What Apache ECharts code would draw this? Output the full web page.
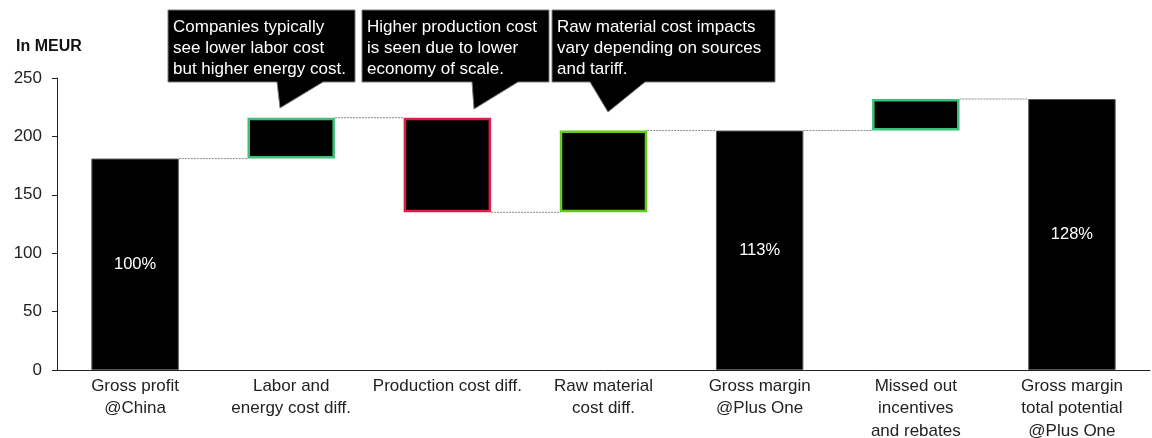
<!DOCTYPE html>
<html>
<head>
<meta charset="utf-8">
<script src="https://cdn.jsdelivr.net/npm/echarts@6/dist/echarts.min.js"></script>
<style>
  html, body { margin: 0; padding: 0; background: #fff; }
  #chart { width: 1152px; height: 438px; }
</style>
</head>
<body>
<div id="chart"></div>
<script>
// categories along the x axis
const categories = [
  'Gross profit\n@China',
  'Labor and\nenergy cost diff.',
  'Production cost diff.',
  'Raw material\ncost diff.',
  'Gross margin\n@Plus One',
  'Missed out\nincentives\nand rebates',
  'Gross margin\ntotal potential\n@Plus One'
];
// step changes in MEUR (totals marked separately)
const steps = [181, 35, -81, 70, 0, 27, 0];
const isTotal = [true, false, false, false, true, false, true];
const percentLabels = ['100%', '', '', '', '113%', '', '128%'];
const yTicks = [0, 50, 100, 150, 200, 250];

const borderColors = ['#555555', '#3cbf78', '#e31b4b', '#63c91a', '#555555', '#3cbf78', '#555555'];

// build waterfall
let running = 0;
const baseData = [];
const barData = [];
const levels = [];
for (let i = 0; i < steps.length; i++) {
  if (isTotal[i]) {
    if (i === 0) running = steps[i];
    baseData.push(0);
    barData.push(running);
  } else {
    const next = running + steps[i];
    baseData.push(Math.min(running, next));
    barData.push(Math.abs(steps[i]));
    running = next;
  }
  levels.push(running);
}

const connectorData = [];
for (let i = 0; i < levels.length - 1; i++) connectorData.push([i, levels[i]]);

const chart = echarts.init(document.getElementById('chart'), null, { renderer: 'canvas' });

function callout(x0, x1, b1, b2, tipX, tipY, text) {
  const y0 = 10, y1 = 82;
  return {
    type: 'group',
    children: [
      {
        type: 'polygon',
        shape: { points: [[x0, y0], [x1, y0], [x1, y1], [b2, y1], [tipX, tipY], [b1, y1], [x0, y1]] },
        style: { fill: '#000', stroke: '#7a7a7a', lineWidth: 1 }
      },
      {
        type: 'text',
        x: x0 + 5, y: y0 + 7,
        style: {
          text: text, fill: '#fff',
          font: '17px "Liberation Sans", Arial, sans-serif',
          lineHeight: 21
        }
      }
    ]
  };
}

const option = {
  animation: false,
  title: {
    text: 'In MEUR',
    left: 11, top: 34,
    textStyle: { fontFamily: '"Liberation Sans", Arial', fontWeight: 'bold', fontSize: 16, color: '#111' }
  },
  grid: { left: 57, right: 2, top: 78, bottom: 68, outerBoundsMode: 'none', containLabel: false },
  xAxis: {
    type: 'category',
    data: categories,
    axisTick: { show: false },
    axisLine: { lineStyle: { color: '#222', width: 1 } },
    axisLabel: {
      interval: 0,
      color: '#222',
      fontSize: 17,
      lineHeight: 22.5,
      margin: 5,
      fontFamily: '"Liberation Sans", Arial'
    }
  },
  yAxis: {
    type: 'value',
    min: 0, max: 250, interval: 50,
    splitLine: { show: false },
    axisLine: { show: true, lineStyle: { color: '#222' } },
    axisTick: { show: true, length: 5, lineStyle: { color: '#222' } },
    axisLabel: {
      color: '#222', fontSize: 17, margin: 15,
      fontFamily: '"Liberation Sans", Arial',
      formatter: v => (yTicks.includes(v) ? String(v) : '')
    }
  },
  series: [
    {
      type: 'bar',
      stack: 'wf',
      barWidth: '56%',
      silent: true,
      itemStyle: { color: 'transparent' },
      data: baseData
    },
    {
      type: 'bar',
      stack: 'wf',
      barWidth: '56%',
      data: barData.map((v, i) => ({
        value: v,
        itemStyle: {
          color: '#000',
          borderColor: borderColors[i],
          borderWidth: isTotal[i] ? 1 : 2.5
        },
        label: {
          show: percentLabels[i] !== '',
          formatter: percentLabels[i],
          position: 'inside',
          color: '#fff',
          fontSize: 16.5,
          fontFamily: '"Liberation Sans", Arial'
        }
      }))
    },
    {
      type: 'custom',
      silent: true,
      z: 1,
      data: connectorData,
      renderItem: function (params, api) {
        const i = api.value(0);
        const v = api.value(1);
        const p1 = api.coord([i, v]);
        const p2 = api.coord([i + 1, v]);
        const half = api.size([1, 0])[0] * 0.56 / 2;
        return {
          type: 'line',
          shape: { x1: p1[0] + half, y1: p1[1], x2: p2[0] - half, y2: p2[1] },
          style: { stroke: '#8a8a8a', lineWidth: 1, lineDash: [2, 1] }
        };
      }
    }
  ],
  graphic: [
    callout(168, 355, 277, 323, 280, 108, 'Companies typically\nsee lower labor cost\nbut higher energy cost.'),
    callout(362, 549, 472, 518, 474, 109, 'Higher production cost\nis seen due to lower\neconomy of scale.'),
    callout(552, 775, 590, 645, 608, 112, 'Raw material cost impacts\nvary depending on sources\nand tariff.')
  ]
};

chart.setOption(option);
</script>
</body>
</html>
